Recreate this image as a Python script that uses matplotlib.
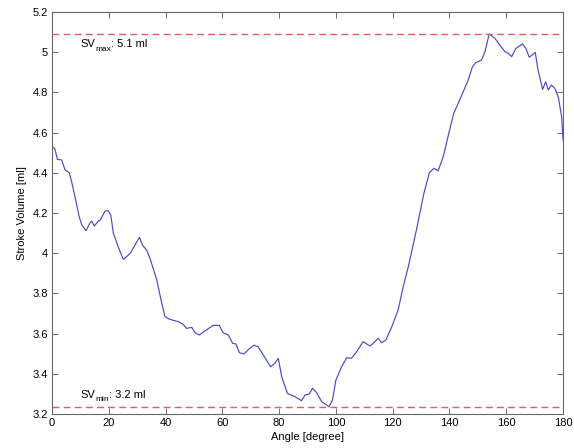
import matplotlib
matplotlib.use("Agg")
import matplotlib.pyplot as plt
import numpy as np

plt.rcParams['font.family'] = ['Liberation Sans', 'DejaVu Sans']

# Stroke volume versus angle
angle_deg = [0.0, 1.0, 1.9, 3.4, 4.6, 6.1, 6.9, 8.1, 9.6, 10.5, 12.0, 13.4, 14.0, 14.9,
             16.3, 17.0, 18.7, 19.8, 20.7, 21.6, 23.3, 25.1, 26.3, 27.7, 29.2, 30.8,
             31.9, 33.3, 34.5, 36.9, 38.4, 39.8, 41.5, 44.5, 46.2, 47.4, 49.2, 50.4,
             51.9, 53.9, 56.8, 58.9, 60.3, 62.1, 63.6, 64.8, 66.0, 67.6, 69.7, 71.1,
             72.6, 74.4, 77.0, 78.5, 79.7, 80.9, 82.9, 85.6, 87.9, 89.1, 90.6, 91.8,
             93.2, 95.0, 97.6, 98.8, 100.0, 102.0, 103.8, 105.5, 107.3, 109.6, 112.0,
             113.4, 114.9, 116.1, 117.6, 119.6, 121.9, 123.7, 125.5, 127.2, 128.4,
             131.0, 132.9, 134.5, 136.0, 137.8, 139.9, 141.5, 143.1, 145.1, 146.6,
             148.1, 149.3, 151.3, 152.5, 154.0, 156.0, 157.7, 159.5, 160.7, 161.9,
             163.4, 164.2, 165.7, 166.9, 168.1, 169.1, 170.2, 171.2, 172.8, 173.9,
             174.8, 175.9, 177.1, 178.3, 179.5, 180.0]
stroke_volume = [4.53, 4.52, 4.467, 4.464, 4.414, 4.40, 4.356, 4.28, 4.18, 4.14, 4.112,
                 4.152, 4.16, 4.135, 4.16, 4.165, 4.21, 4.211, 4.19, 4.10, 4.032, 3.97,
                 3.983, 4.002, 4.04, 4.079, 4.04, 4.016, 3.975, 3.867, 3.767, 3.684,
                 3.671, 3.659, 3.646, 3.626, 3.631, 3.604, 3.593, 3.614, 3.641, 3.641,
                 3.604, 3.593, 3.552, 3.548, 3.505, 3.499, 3.527, 3.542, 3.535, 3.494,
                 3.435, 3.452, 3.477, 3.386, 3.303, 3.286, 3.266, 3.294, 3.30, 3.328,
                 3.306, 3.261, 3.236, 3.27, 3.369, 3.435, 3.48, 3.477, 3.51, 3.56,
                 3.538, 3.555, 3.577, 3.555, 3.568, 3.631, 3.717, 3.833, 3.933, 4.041,
                 4.119, 4.298, 4.40, 4.422, 4.41, 4.48, 4.604, 4.696, 4.746, 4.812,
                 4.862, 4.928, 4.948, 4.961, 5.003, 5.091, 5.069, 5.036, 5.003, 4.994,
                 4.978, 5.019, 5.027, 5.041, 5.019, 4.975, 4.986, 4.999, 4.911, 4.815,
                 4.853, 4.812, 4.837, 4.82, 4.779, 4.679, 4.563]

x_ticks = [0, 20, 40, 60, 80, 100, 120, 140, 160, 180]
y_ticks = [3.2, 3.4, 3.6, 3.8, 4.0, 4.2, 4.4, 4.6, 4.8, 5.0, 5.2]
y_tick_labels = ['3.2', '3.4', '3.6', '3.8', '4', '4.2', '4.4', '4.6', '4.8', '5', '5.2']

sv_max = max(stroke_volume)
sv_min = min(stroke_volume)

fig = plt.figure(figsize=(5.74, 4.48), dpi=100)
ax = fig.add_axes([0.0906, 0.0759, 0.8903, 0.8973])

ax.plot(angle_deg, stroke_volume, color='#4a4ac4', linewidth=0.85)
ax.axhline(sv_max, color='#e06060', linestyle=(0, (5, 3)), linewidth=1.0)
ax.axhline(sv_min, color='#e06060', linestyle=(0, (5, 3)), linewidth=1.0)


def sv_label(x, y, sub, value):
    """Write 'SV_sub: value ml' with a dropped, smaller subscript."""
    base = ax.text(x, y, 'SV', fontsize=8, ha='left', va='baseline')
    subscript = ax.annotate(sub, xy=(1, 0), xycoords=base,
                            xytext=(0.3, -2.6), textcoords='offset points',
                            fontsize=6, ha='left', va='bottom')
    ax.annotate(': %.1f ml' % value, xy=(1, 0), xycoords=(subscript, base),
                xytext=(0, 0), textcoords='offset points',
                fontsize=8, ha='left', va='bottom')


sv_label(9.9, 5.026, 'max', sv_max)
sv_label(9.9, 3.282, 'min', sv_min)

ax.set_xlim(0, 180)
ax.set_ylim(3.2, 5.2)
ax.set_xticks(x_ticks)
ax.set_yticks(y_ticks)
ax.set_yticklabels(y_tick_labels)
ax.tick_params(direction='in', top=True, right=True, labelsize=8,
               length=4, width=0.6, color='#555555', pad=3)
for s in ax.spines.values():
    s.set_color('#666666')
    s.set_linewidth(0.8)

ax.set_xlabel('Angle [degree]', fontsize=8, labelpad=3)
ax.set_ylabel('Stroke Volume [ml]', fontsize=8, labelpad=4)

fig.savefig('out.png', dpi=100)
